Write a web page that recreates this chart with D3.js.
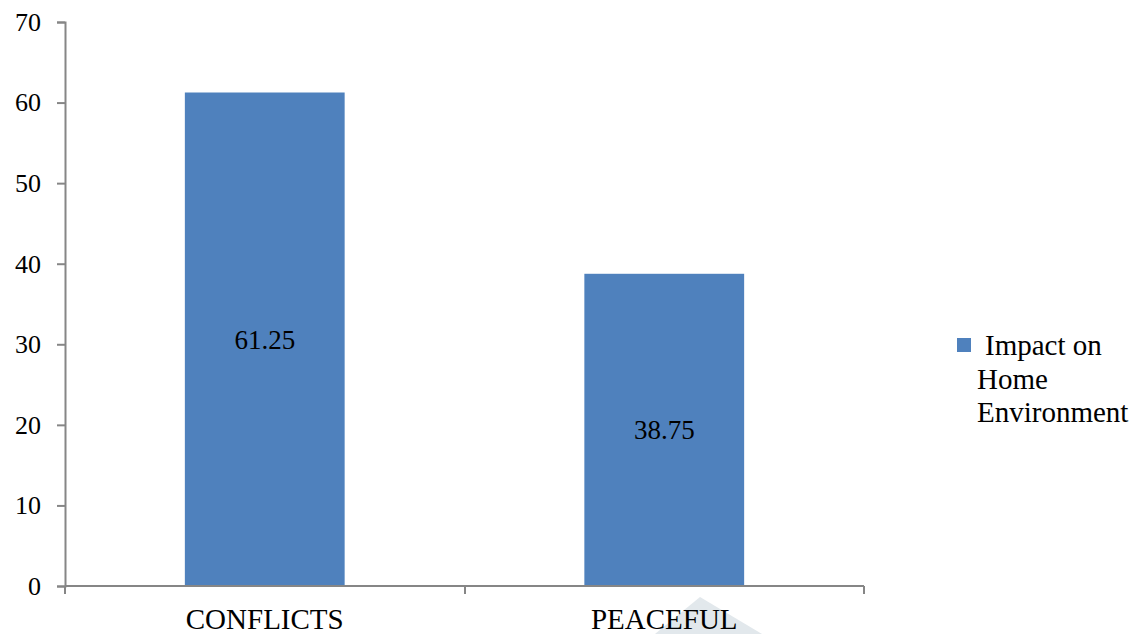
<!DOCTYPE html>
<html><head><meta charset="utf-8">
<script src="https://cdn.jsdelivr.net/npm/d3@7"></script>
<style>body{margin:0;background:#fff}svg{display:block}
svg text{font-family:"Liberation Serif","Tinos","Times New Roman","DejaVu Serif",serif}
</style>
</head><body>
<script>
const categories = ["CONFLICTS", "PEACEFUL"];
const values = [61.25, 38.75];
const seriesName = "Impact on Home Environment";
const yTicks = [0, 10, 20, 30, 40, 50, 60, 70];

const W = 1133, H = 634;
const svg = d3.select("body").append("svg").attr("width", W).attr("height", H);
const x = d3.scaleBand().domain(categories).range([65, 864]).paddingInner(0.6).paddingOuter(0.3);
const y = d3.scaleLinear().domain([0, 70]).range([586, 22]);
const axisColor = "#868686";

// faint watermark behind PEACEFUL
svg.append("path").attr("d", "M655,634 L700,597 L762,634 Z").attr("fill", "#e2e8ec");

// bars
svg.selectAll("rect.bar").data(values).enter().append("rect")
  .attr("x", (d, i) => x(categories[i])).attr("width", x.bandwidth())
  .attr("y", d => y(d)).attr("height", d => y(0) - y(d))
  .attr("fill", "#4F81BD");

// data labels
svg.selectAll("text.lbl").data(values).enter().append("text")
  .attr("x", (d, i) => x(categories[i]) + x.bandwidth() / 2)
  .attr("y", d => (y(d) + y(0)) / 2)
  .attr("dy", "0.35em").attr("text-anchor", "middle")
  .attr("font-size", 27).attr("fill", "#000")
  .text(d => d);

// y axis
const ya = svg.append("g").attr("transform", "translate(65,0)")
  .call(d3.axisLeft(y).tickValues(yTicks).tickSize(8).tickPadding(16).tickFormat(d3.format("d")));
ya.attr("font-family", null);
ya.select(".domain").attr("stroke", axisColor).attr("stroke-width", 2);
ya.selectAll(".tick line").attr("stroke", axisColor).attr("stroke-width", 2);
ya.selectAll("text").attr("font-size", 26).attr("fill", "#000");

// x axis
const xa = svg.append("g").attr("transform", "translate(0,586)");
xa.append("line").attr("x1", 65).attr("x2", 864).attr("y1", 0).attr("y2", 0)
  .attr("stroke", axisColor).attr("stroke-width", 2);
xa.selectAll("line.tk").data([65, 465, 864]).enter().append("line")
  .attr("x1", d => d).attr("x2", d => d).attr("y1", 0).attr("y2", 8)
  .attr("stroke", axisColor).attr("stroke-width", 2);
xa.selectAll("text").data(categories).enter().append("text")
  .attr("x", d => x(d) + x.bandwidth() / 2).attr("y", 43)
  .attr("text-anchor", "middle")
  .attr("font-size", 29).attr("fill", "#000")
  .text(d => d);

// legend
const lg = svg.append("g");
lg.append("rect").attr("x", 957).attr("y", 338).attr("width", 14).attr("height", 14).attr("fill", "#4F81BD");
const lt = lg.append("text").attr("font-size", 29).attr("fill", "#000");
lt.append("tspan").attr("x", 985).attr("y", 355).text("Impact on");
lt.append("tspan").attr("x", 977).attr("y", 389).text("Home");
lt.append("tspan").attr("x", 977).attr("y", 422).text("Environment");
</script>
</body></html>
